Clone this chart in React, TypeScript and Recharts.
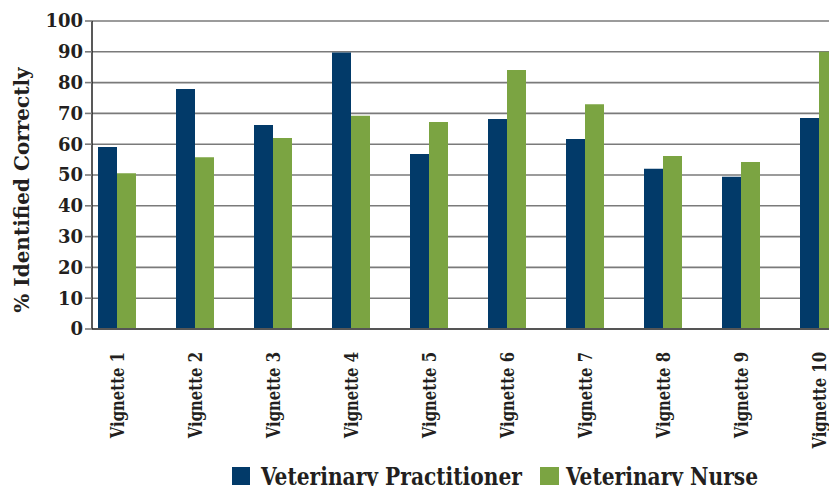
import React from 'react';
import { BarChart, Bar, XAxis, YAxis, CartesianGrid, Legend, Label } from 'recharts';

const categories = ['Vignette 1', 'Vignette 2', 'Vignette 3', 'Vignette 4', 'Vignette 5', 'Vignette 6', 'Vignette 7', 'Vignette 8', 'Vignette 9', 'Vignette 10'];
const practitioner = [59.1, 77.9, 66.2, 89.8, 56.8, 68.2, 61.7, 52.0, 49.4, 68.5];
const nurse = [50.6, 55.8, 62.0, 69.2, 67.2, 84.1, 73.0, 56.2, 54.2, 90.0];
const yTicks = [0, 10, 20, 30, 40, 50, 60, 70, 80, 90, 100];
const seriesNames = ['Veterinary Practitioner', 'Veterinary Nurse'];
const yAxisTitle = '% Identified Correctly';

const BLUE = '#023a69';
const GREEN = '#7ba442';
const TEXT = '#231f20';
const FONT = '"DejaVu Serif", serif';
const FONT_C = '"DejaVu Serif Condensed", "DejaVu Serif", serif';

const data = categories.map((c, i) => ({ name: c, vp: practitioner[i], vn: nurse[i] }));

const XTick = (props: any) => {
  const { x, y, payload } = props;
  const ty = y + 15;
  return (
    <text x={0} y={0} transform={`translate(${x} ${ty}) rotate(-90) scale(0.87 1)`} textAnchor="end" dominantBaseline="central"
      fontFamily={FONT_C} fontStretch="condensed" fontWeight="bold" fontSize={19} fill={TEXT}>
      {payload.value}
    </text>
  );
};

const YLabel = (props: any) => {
  const vb = props.viewBox || {};
  const x = vb.x + 22;
  const y = vb.y + vb.height / 2 + 15;
  return (
    <text x={x} y={y} transform={`rotate(-90 ${x} ${y})`} textAnchor="middle" dominantBaseline="central"
      fontFamily={FONT} fontWeight="bold" fontSize={20} fill={TEXT}>
      {yAxisTitle}
    </text>
  );
};

const LegendContent = () => (
  <div style={{ display: 'flex', alignItems: 'flex-start', paddingLeft: 232, fontFamily: FONT_C, fontStretch: 'condensed', fontWeight: 'bold', fontSize: 24, color: TEXT, lineHeight: 1 }}>
    <div style={{ display: 'flex', alignItems: 'flex-start', width: 308, flex: 'none' }}>
      <div style={{ width: 18, height: 18, background: BLUE, marginTop: 2, marginRight: 11, flex: 'none' }} />
      <span style={{ whiteSpace: 'nowrap', display: 'inline-block', transform: 'scaleX(0.935)', transformOrigin: 'left center' }}>{seriesNames[0]}</span>
    </div>
    <div style={{ display: 'flex', alignItems: 'flex-start', flex: 'none' }}>
      <div style={{ width: 19, height: 18, background: GREEN, marginTop: 2, marginRight: 7, flex: 'none' }} />
      <span style={{ whiteSpace: 'nowrap', display: 'inline-block', transform: 'scaleX(0.935)', transformOrigin: 'left center' }}>{seriesNames[1]}</span>
    </div>
  </div>
);

export default function App() {
  return (
    <div style={{ position: 'absolute', left: 0, top: 0, width: 829, height: 486, overflow: 'hidden', background: '#fff' }}>
      <BarChart width={829} height={486} data={data} margin={{ top: 21, right: 0, bottom: 0, left: 0 }}
        barCategoryGap={20} barGap={0}>
        <CartesianGrid vertical={false} stroke="#7a7a7a" strokeWidth={1.6} />
        <XAxis dataKey="name" height={157} interval={0} tickLine={false} tick={<XTick />}
          axisLine={{ stroke: '#555', strokeWidth: 2 }} padding={{ left: -14, right: -29 }} />
        <YAxis width={92} domain={[0, 100]} ticks={yTicks} interval={0} tickSize={7}
          tickLine={{ stroke: '#7a7a7a', strokeWidth: 1.6 }} axisLine={{ stroke: '#222', strokeWidth: 1.5 }}
          tick={{ fontFamily: FONT, fontWeight: 'bold', fontSize: 18, fill: TEXT }}>
          <Label content={<YLabel />} />
        </YAxis>
        <Legend layout="horizontal" verticalAlign="middle" align="center" content={<LegendContent />}
          wrapperStyle={{ top: 465, left: 0, width: 829 }} />
        <Bar dataKey="vp" name={seriesNames[0]} fill={BLUE} isAnimationActive={false} />
        <Bar dataKey="vn" name={seriesNames[1]} fill={GREEN} isAnimationActive={false} />
      </BarChart>
    </div>
  );
}
